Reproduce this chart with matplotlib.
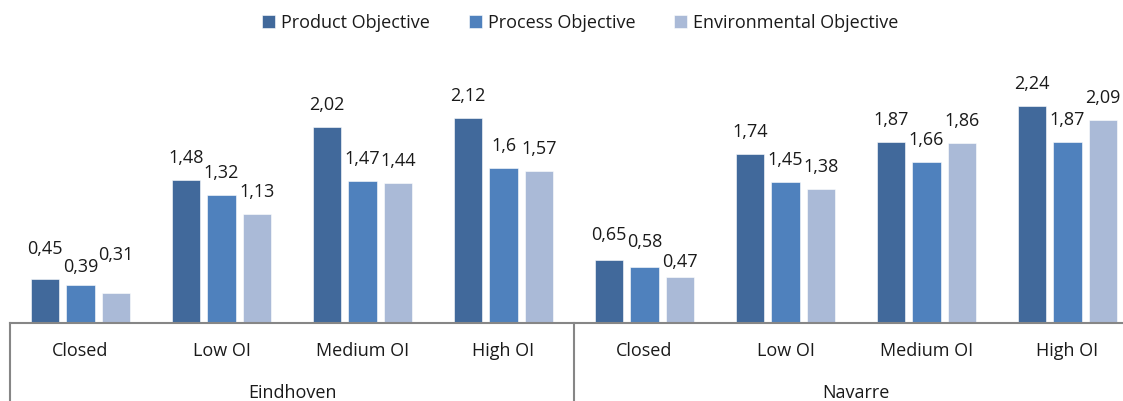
import matplotlib
matplotlib.use("Agg")
import matplotlib.pyplot as plt
import numpy as np

plt.rcParams['font.family'] = ['Open Sans', 'DejaVu Sans']

groups = ["Eindhoven", "Navarre"]
categories = ["Closed", "Low OI", "Medium OI", "High OI"]
series_names = ["Product Objective", "Process Objective", "Environmental Objective"]
product = [0.45, 1.48, 2.02, 2.12, 0.65, 1.74, 1.87, 2.24]
process = [0.39, 1.32, 1.47, 1.60, 0.58, 1.45, 1.66, 1.87]
environmental = [0.31, 1.13, 1.44, 1.57, 0.47, 1.38, 1.86, 2.09]
colors = ["#41699B", "#4F81BD", "#AABAD7"]

# small vertical nudges (pixels) for labels that were moved apart in the original
label_nudge_px = {
    (0, 0): 8, (1, 0): -4, (2, 0): 16,
    (0, 4): 3, (1, 4): 3, (2, 4): -7,
}

W, H = 1123, 401
fig = plt.figure(figsize=(W / 100, H / 100), dpi=100)
left_px, right_px, base_px = 10, 1138, 323
ppu = 96.9
ymax = 2.5
top_px = base_px - ymax * ppu
ax = fig.add_axes([left_px / W, (H - base_px) / H, (right_px - left_px) / W, (base_px - top_px) / H])

n = len(product)
x = np.arange(n)
width = 0.2
offsets = [-0.25, 0, 0.25]
all_series = [product, process, environmental]
for si, (vals, off, col, name) in enumerate(zip(all_series, offsets, colors, series_names)):
    ax.bar(x + off, vals, width, color=col, label=name, edgecolor='white', linewidth=0.4)
    for ci, (xi, v) in enumerate(zip(x + off, vals)):
        lbl = f"{v:g}".replace('.', ',')
        dy_px = 17 + label_nudge_px.get((si, ci), 0)
        ax.annotate(lbl, (xi, v), xytext=(0, dy_px * 0.72), textcoords='offset points',
                    ha='center', va='baseline', fontsize=13, color='#1a1a1a')

ax.set_xlim(-0.5, n - 0.5)
ax.set_ylim(0, ymax)
for s in ['top', 'right', 'left']:
    ax.spines[s].set_visible(False)
ax.spines['bottom'].set_color('#868686')
ax.spines['bottom'].set_linewidth(1.5)
ax.set_yticks([])
ax.set_xticks([])

hpx = base_px - top_px
ext = 78 / hpx
trans = ax.get_xaxis_transform()
for gx in [-0.5, 3.5]:
    ax.plot([gx, gx], [0, -ext], transform=trans, color='#868686', lw=1.5, clip_on=False)

cat_labels = categories * len(groups)
for xi, c in zip(x, cat_labels):
    ax.text(xi, -28 / hpx, c, transform=trans, ha='center', va='center',
            fontsize=13, color='#1a1a1a')
for gi, g in enumerate(groups):
    ax.text(gi * 4 + 1.5, -70 / hpx, g, transform=trans, ha='center', va='center',
            fontsize=13, color='#1a1a1a')

leg = fig.legend(loc='center', bbox_to_anchor=(580.5 / W, 1 - 23 / H), ncol=3, frameon=False,
                 fontsize=13, handlelength=0.72, handleheight=0.72, handletextpad=0.33,
                 columnspacing=2.15, borderpad=0, borderaxespad=0)
for t in leg.get_texts():
    t.set_color('#1a1a1a')

fig.savefig("out.png", dpi=100)
